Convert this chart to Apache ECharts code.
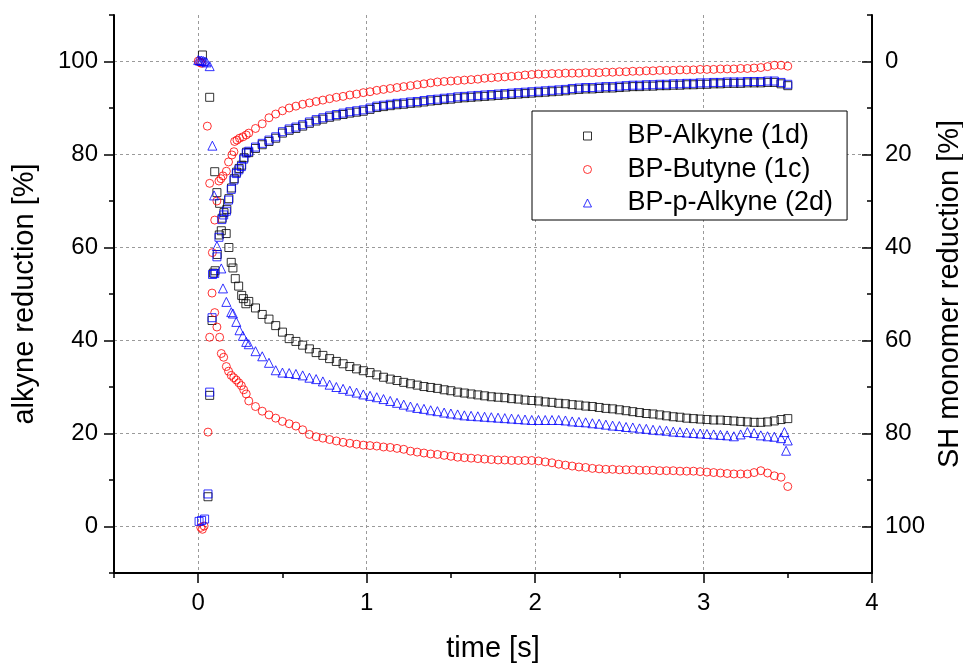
<!DOCTYPE html>
<html>
<head>
<meta charset="utf-8">
<script src="https://cdn.jsdelivr.net/npm/echarts@6/dist/echarts.min.js"></script>
<style>html,body{margin:0;padding:0;background:#fff}#c{width:963px;height:664px}</style>
</head>
<body>
<div id="c"></div>
<script>
// ---- data ----
const xTicks = [0, 1, 2, 3, 4];
const yLeftTicks = [0, 20, 40, 60, 80, 100];
const yRightTicks = [0, 20, 40, 60, 80, 100];
const legendNames = ['BP-Alkyne (1d)', 'BP-Butyne (1c)', 'BP-p-Alkyne (2d)'];

// shared time base for t >= 0.30 s
const T = [0.30,0.34,0.38,0.42,0.46,0.50,0.54,0.58,0.62,0.66,
0.70,0.74,0.78,0.82,0.86,0.90,0.94,0.98,1.02,1.06,
1.10,1.14,1.18,1.22,1.26,1.30,1.34,1.38,1.42,1.46,
1.50,1.54,1.58,1.62,1.66,1.70,1.74,1.78,1.82,1.86,
1.90,1.94,1.98,2.02,2.06,2.10,2.14,2.18,2.22,2.26,
2.30,2.34,2.38,2.42,2.46,2.50,2.54,2.58,2.62,2.66,
2.70,2.74,2.78,2.82,2.86,2.90,2.94,2.98,3.02,3.06,
3.10,3.14,3.18,3.22,3.26,3.30,3.34,3.38,3.42,3.46,
3.50];

// alkyne reduction (left axis)
const alk1dEarly = [[0.025,101.4],[0.068,92.3],[0.098,76.3],[0.111,71.8],[0.127,69.5],[0.137,63.6],[0.166,63.0],[0.182,60.0],[0.196,56.8],[0.206,55.6],[0.220,53.3],[0.240,51.7],[0.258,49.7],[0.268,49.0],[0.283,47.9]];
const alk1d = [48.4,47.0,45.6,44.6,43.2,41.8,40.4,39.8,39.0,38.2,
37.4,36.8,36.1,35.5,35.0,34.4,33.9,33.5,33.1,32.6,
32.1,31.7,31.4,31.0,30.7,30.4,30.1,29.9,29.7,29.4,
29.2,28.9,28.7,28.5,28.3,28.1,27.9,27.8,27.7,27.5,
27.4,27.2,27.1,27.0,26.8,26.7,26.5,26.4,26.2,26.1,
25.9,25.8,25.6,25.4,25.3,25.1,24.9,24.7,24.5,24.3,
24.2,24.0,23.8,23.6,23.5,23.3,23.2,23.1,23.0,22.9,
22.9,22.8,22.7,22.6,22.5,22.4,22.4,22.5,22.7,23.0,
23.2];

const alk1cEarly = [[0.015,-0.2],[0.025,-0.6],[0.035,0.1],[0.058,20.3],[0.068,40.7],[0.082,50.2],[0.098,46.0],[0.111,42.9],[0.127,40.7],[0.137,37.2],[0.151,36.4],[0.167,34.4],[0.180,33.4],[0.196,32.5],[0.211,32.0],[0.226,31.5],[0.241,30.9],[0.256,30.3],[0.270,29.4],[0.285,28.5]];
const alk1c = [27.0,25.8,24.8,24.0,23.3,22.6,22.1,21.6,20.8,19.8,
19.3,19.0,18.7,18.4,18.1,17.9,17.7,17.5,17.4,17.3,
17.1,17.0,16.8,16.6,16.2,16.0,15.8,15.6,15.5,15.3,
15.1,14.9,14.8,14.7,14.6,14.5,14.4,14.3,14.3,14.2,
14.2,14.2,14.2,14.1,13.9,13.7,13.4,13.2,13.0,12.8,
12.7,12.5,12.4,12.3,12.3,12.2,12.2,12.2,12.1,12.1,
12.1,12.0,12.0,12.0,11.9,11.9,11.9,11.8,11.7,11.6,
11.5,11.4,11.3,11.3,11.3,11.6,12.0,11.5,10.9,10.6,
8.6];

const alk2dEarly = [[0.000,100.3],[0.010,100.2],[0.020,100.2],[0.030,100.1],[0.040,100.0],[0.050,99.8],[0.068,99.0],[0.084,81.9],[0.094,71.2],[0.111,60.3],[0.137,55.5],[0.147,51.2],[0.167,48.3],[0.196,46.1],[0.206,45.8],[0.226,44.0],[0.245,42.2],[0.265,41.0],[0.285,39.7]];
const alk2d = [39.2,37.7,36.6,35.2,33.6,33.1,33.0,32.8,32.5,32.0,
31.7,31.2,30.5,30.0,29.6,29.2,28.8,28.4,28.1,27.8,
27.4,27.0,26.6,26.2,25.8,25.5,25.3,25.0,24.8,24.5,
24.3,24.1,23.9,23.8,23.7,23.6,23.5,23.4,23.3,23.2,
23.1,23.0,22.9,22.9,22.9,22.9,22.9,22.8,22.6,22.5,
22.4,22.2,22.1,21.9,21.7,21.6,21.4,21.3,21.1,21.0,
20.8,20.7,20.6,20.4,20.3,20.2,20.1,20.0,19.9,19.8,
19.7,19.6,19.4,19.8,20.3,20.1,19.6,19.4,19.3,19.0,
18.5];
const alk2dTail = [[3.48,20.3],[3.49,16.3]];

// SH monomer reduction (right axis, inverted)
const sh1dEarly = [[0.058,93.6],[0.068,71.8],[0.082,55.7],[0.090,45.5],[0.100,45.0],[0.113,41.5],[0.125,37.3],[0.142,33.7],[0.153,32.5],[0.170,31.8],[0.182,29.5],[0.198,27.2],[0.214,25.2],[0.228,23.8],[0.243,23.0],[0.258,22.3],[0.272,20.7],[0.287,19.5]];
const sh1d = [19.6,18.7,17.9,17.2,16.5,15.4,14.8,14.4,13.9,13.3,
12.8,12.4,12.0,11.7,11.4,11.1,10.9,10.7,10.3,9.9,
9.7,9.5,9.3,9.2,9.0,8.9,8.7,8.5,8.4,8.2,
8.1,7.9,7.8,7.7,7.6,7.5,7.4,7.3,7.2,7.1,
7.0,6.9,6.8,6.7,6.6,6.5,6.4,6.3,6.1,6.0,
5.9,5.9,5.8,5.7,5.7,5.6,5.5,5.4,5.4,5.3,
5.3,5.2,5.2,5.1,5.1,5.0,5.0,4.9,4.9,4.8,
4.8,4.7,4.7,4.7,4.6,4.6,4.6,4.5,4.5,4.8,
5.2];

const sh1cEarly = [[0.000,-0.1],[0.010,0.2],[0.020,0.4],[0.054,13.9],[0.068,26.2],[0.084,41.1],[0.098,34.1],[0.111,30.0],[0.123,25.7],[0.135,25.2],[0.147,24.6],[0.167,23.6],[0.180,21.6],[0.200,20.1],[0.212,19.4],[0.216,17.2],[0.230,16.9],[0.245,16.5],[0.265,16.2],[0.285,15.8]];
const sh1c = [15.4,14.4,13.4,12.1,11.3,10.6,10.0,9.6,9.2,8.9,
8.6,8.3,8.0,7.7,7.5,7.2,7.0,6.7,6.5,6.2,
6.0,5.8,5.6,5.4,5.2,5.0,4.8,4.6,4.4,4.3,
4.2,4.1,4.0,3.9,3.8,3.6,3.5,3.4,3.3,3.2,
3.1,2.9,2.8,2.7,2.7,2.6,2.6,2.5,2.5,2.5,
2.4,2.4,2.4,2.3,2.3,2.2,2.2,2.1,2.1,2.0,
2.0,1.9,1.9,1.9,1.8,1.8,1.8,1.7,1.7,1.7,
1.6,1.6,1.6,1.5,1.5,1.4,1.3,1.1,0.8,0.8,
1.0];

const sh2dEarly = [[0.005,98.9],[0.020,98.7],[0.038,98.4],[0.058,93.0],[0.068,71.1],[0.082,55.1],[0.085,45.8],[0.098,45.6],[0.111,42.0],[0.123,37.8],[0.140,34.0],[0.151,33.0],[0.167,32.2],[0.180,29.8],[0.196,27.5],[0.212,25.5],[0.226,24.1],[0.241,23.3],[0.256,22.6],[0.270,21.0],[0.285,19.7]];
const sh2d = [19.3,18.4,17.6,16.9,16.2,15.1,14.5,14.1,13.6,13.0,
12.5,12.1,11.7,11.4,11.1,10.8,10.6,10.4,10.0,9.6,
9.4,9.2,9.0,8.9,8.7,8.6,8.4,8.2,8.1,7.9,
7.8,7.6,7.5,7.4,7.3,7.2,7.1,7.0,6.9,6.8,
6.7,6.6,6.5,6.4,6.3,6.2,6.1,6.0,5.8,5.7,
5.6,5.6,5.5,5.4,5.4,5.3,5.2,5.1,5.1,5.0,
5.0,4.9,4.9,4.8,4.8,4.7,4.7,4.6,4.6,4.5,
4.5,4.4,4.4,4.4,4.3,4.3,4.3,4.2,4.2,4.5,
4.9];

// ---- build ----
function pts(early, vals, tail) {
  const main = vals.map((v, i) => [T[i], v]);
  return early.concat(main, tail || []);
}
const FONT = "'Liberation Sans', Arial, sans-serif";
const BLACK = '#000000', RED = '#ff0000', BLUE = '#0000ff';

function sc(name, data, symbol, size, color, yIdx) {
  return {
    type: 'scatter', name: name, data: data, xAxisIndex: 0, yAxisIndex: yIdx,
    symbol: symbol, symbolSize: size,
    itemStyle: { color: 'transparent', borderColor: color, borderWidth: 1 },
    emphasis: { disabled: true }, animation: false
  };
}

const chart = echarts.init(document.getElementById('c'), null, { renderer: 'canvas' });
const axisLineStyle = { color: '#000', width: 2 };
const option = {
  animation: false,
  backgroundColor: '#fff',
  grid: { left: 114, right: 91, top: 15, bottom: 91, containLabel: false, outerBoundsMode: 'none' },
  legend: {
    orient: 'vertical', left: 532, top: 111,
    padding: [10, 14, 2, 51],
    itemWidth: 8, itemHeight: 8, itemGap: 3.5,
    symbolKeepAspect: true,
    borderColor: '#000', borderWidth: 1, backgroundColor: '#fff',
    textStyle: { fontFamily: FONT, fontSize: 27, color: '#000', lineHeight: 30, padding: [0, 0, 0, 31] },
    data: [
      { name: legendNames[0], icon: 'rect', itemStyle: { color: 'transparent', borderColor: BLACK, borderWidth: 1 } },
      { name: legendNames[1], icon: 'circle', itemStyle: { color: 'transparent', borderColor: RED, borderWidth: 1 } },
      { name: legendNames[2], icon: 'triangle', itemStyle: { color: 'transparent', borderColor: BLUE, borderWidth: 1 } }
    ]
  },
  xAxis: [
    {
      type: 'value', position: 'bottom', min: -0.5, max: 4, interval: 0.5,
      name: 'time [s]', nameLocation: 'middle', nameGap: 61,
      nameTextStyle: { fontFamily: FONT, fontSize: 29, color: '#000' },
      axisLine: { show: true, onZero: false, lineStyle: axisLineStyle },
      axisTick: { show: true, inside: false, length: 10, lineStyle: { color: '#000', width: 1.5 }, customValues: xTicks },
      axisLabel: { show: true, margin: 18, fontFamily: FONT, fontSize: 24, color: '#000', customValues: xTicks },
      splitLine: { show: true, lineStyle: { color: '#9a9a9a', width: 1, type: [3, 3] } }
    },
    {
      type: 'value', position: 'bottom', min: -0.5, max: 4, interval: 0.5,
      axisLine: { show: false, onZero: false },
      axisTick: { show: true, inside: false, length: 5, lineStyle: { color: '#000', width: 1.5 } },
      axisLabel: { show: false }, splitLine: { show: false }
    }
  ],
  yAxis: [
    {
      type: 'value', position: 'left', min: -10, max: 110, interval: 10,
      name: 'alkyne reduction [%]', nameLocation: 'middle', nameRotate: 90, nameGap: 75,
      nameTextStyle: { fontFamily: FONT, fontSize: 29, color: '#000' },
      axisLine: { show: true, onZero: false, lineStyle: axisLineStyle },
      axisTick: { show: true, inside: false, length: 10, lineStyle: { color: '#000', width: 1.5 }, customValues: yLeftTicks },
      axisLabel: { show: true, margin: 16, fontFamily: FONT, fontSize: 24, color: '#000', customValues: yLeftTicks },
      splitLine: { show: true, lineStyle: { color: '#9a9a9a', width: 1, type: [3, 3] } }
    },
    {
      type: 'value', position: 'right', min: -10, max: 110, interval: 10, inverse: true,
      name: 'SH monomer reduction [%]', nameLocation: 'middle', nameRotate: 90, nameGap: 56,
      nameTextStyle: { fontFamily: FONT, fontSize: 29, color: '#000' },
      axisLine: { show: true, onZero: false, lineStyle: axisLineStyle },
      axisTick: { show: true, inside: true, length: 10, lineStyle: { color: '#000', width: 1.5 }, customValues: yRightTicks },
      axisLabel: { show: true, margin: 13, fontFamily: FONT, fontSize: 24, color: '#000', customValues: yRightTicks },
      splitLine: { show: false }
    },
    {
      type: 'value', position: 'left', min: -10, max: 110, interval: 10,
      axisLine: { show: false, onZero: false },
      axisTick: { show: true, inside: false, length: 5, lineStyle: { color: '#000', width: 1.5 } },
      axisLabel: { show: false }, splitLine: { show: false }
    },
    {
      type: 'value', position: 'right', min: -10, max: 110, interval: 10, inverse: true,
      axisLine: { show: false, onZero: false },
      axisTick: { show: true, inside: true, length: 5, lineStyle: { color: '#000', width: 1.5 } },
      axisLabel: { show: false }, splitLine: { show: false }
    }
  ],
  series: [
    sc(legendNames[0], pts(alk1dEarly, alk1d), 'rect', 8, BLACK, 0),
    sc('SH ' + legendNames[0], pts(sh1dEarly, sh1d), 'rect', 8, BLACK, 1),
    sc(legendNames[1], pts(alk1cEarly, alk1c), 'circle', 8, RED, 0),
    sc('SH ' + legendNames[1], pts(sh1cEarly, sh1c), 'circle', 8, RED, 1),
    sc('SH ' + legendNames[2], pts(sh2dEarly, sh2d), 'rect', 8, BLUE, 1),
    sc(legendNames[2], pts(alk2dEarly, alk2d, alk2dTail), 'triangle', 9, BLUE, 0)
  ]
};
chart.setOption(option);
</script>
</body>
</html>
